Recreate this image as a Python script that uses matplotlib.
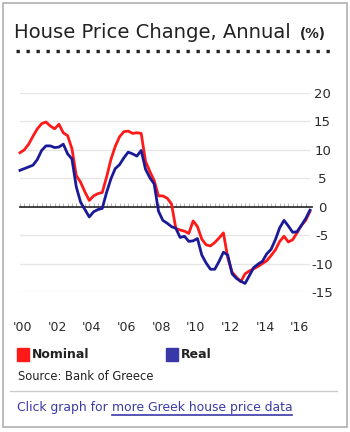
import matplotlib
matplotlib.use("Agg")
import matplotlib.pyplot as plt
from matplotlib.patches import Rectangle
from matplotlib.lines import Line2D
import numpy as np

# ---- data (quarterly, 2000Q1 .. 2016Q4), % y/y ----
start_year = 2000
nominal = [9.5, 10.0, 11.0, 12.4, 13.7, 14.6, 14.9, 14.2, 13.7, 14.5, 13.0, 12.5,
           10.2, 5.5, 4.3, 2.6, 1.1, 1.9, 2.3, 2.5, 5.2, 8.3, 10.6, 12.3,
           13.2, 13.3, 12.9, 13.0, 12.9, 8.0, 6.2, 4.6, 1.9, 1.9, 1.5, 0.5,
           -3.8, -4.1, -4.3, -4.7, -2.5, -3.5, -5.7, -6.7, -6.9, -6.3, -5.5, -4.6,
           -9.0, -11.5, -12.4, -13.2, -11.8, -11.3, -10.9, -10.5, -10.0, -9.5, -8.6, -7.6,
           -6.1, -5.2, -6.2, -5.8, -4.6, -3.3, -2.4, -0.8]
real = [6.4, 6.7, 7.0, 7.3, 8.3, 9.9, 10.7, 10.7, 10.4, 10.5, 11.0, 9.3,
        8.4, 3.5, 0.8, -0.5, -1.8, -0.9, -0.5, -0.3, 2.5, 4.9, 6.7, 7.4,
        8.6, 9.6, 9.3, 8.9, 9.9, 6.6, 5.1, 4.0, -0.8, -2.4, -2.9, -3.5,
        -3.8, -5.4, -5.2, -6.1, -6.0, -5.6, -8.5, -9.9, -11.0, -11.0, -9.6, -8.0,
        -8.5, -11.8, -12.6, -13.1, -13.5, -12.1, -10.7, -10.1, -9.6, -8.3, -7.5, -5.8,
        -3.7, -2.4, -3.4, -4.5, -4.4, -3.3, -2.1, -0.6]
xtick_years = [2000, 2002, 2004, 2006, 2008, 2010, 2012, 2014, 2016]
xtick_labels = ["'00", "'02", "'04", "'06", "'08", "'10", "'12", "'14", "'16"]
ytick_values = [-15, -10, -5, 0, 5, 10, 15, 20]
ytick_labels = ["-15", "-10", "-5", "0", "5", "10", "15", "20"]

W, H = 350, 432
fig = plt.figure(figsize=(W / 100, H / 100), dpi=100)
fig.patch.set_facecolor("white")
renderer = fig.canvas.get_renderer()


def fx(x):
    return x / W


def fy(y):
    return 1 - y / H


# outer border
fig.add_artist(Rectangle((fx(3), fy(427)), fx(344), (427 - 3) / H, fill=False,
                         edgecolor="#b0b0b0", lw=1.2, transform=fig.transFigure))

# title
fig.text(fx(14), fy(33), "House Price Change, Annual", fontsize=14.1, color="#222222",
         ha="left", va="center", family="DejaVu Sans")
fig.text(fx(300), fy(34), "(%)", fontsize=9.8, color="#222222", weight="bold",
         ha="left", va="center", family="DejaVu Sans")
fig.add_artist(Line2D([fx(16), fx(331)], [fy(51), fy(51)], color="#222222", lw=2.4,
                      linestyle=(0, (1.0, 2.0)), transform=fig.transFigure))

# axes
left_px, right_px, top_px, bot_px = 20, 310, 93, 292
ax = fig.add_axes([fx(left_px), fy(bot_px), (right_px - left_px) / W, (bot_px - top_px) / H])
t = np.array([start_year + i / 4 for i in range(len(nominal))])
ax.set_xlim(start_year, t[-1])
ax.set_ylim(-15, 20)
for s in ax.spines.values():
    s.set_visible(False)
ax.set_facecolor("none")

for v in ytick_values:
    if v != 0:
        ax.axhline(v, color="#e6e6e6", lw=0.9, zorder=0)
# quarterly small ticks above zero line
ax.vlines(t, 0, 0.6, color="#b5b5b5", lw=0.7, zorder=1)
ax.plot([start_year, t[-1] + 0.1], [0, 0], color="#333333", lw=1.3, zorder=2, clip_on=False)

ax.plot(t, nominal, color="#ff1a1a", lw=2.0, zorder=3, clip_on=False, solid_joinstyle="round")
ax.plot(t, real, color="#1a1a99", lw=2.0, zorder=4, clip_on=False, solid_joinstyle="round")

ax.yaxis.tick_right()
ax.set_yticks(ytick_values)
ax.set_yticklabels(ytick_labels)
ax.tick_params(axis="y", length=0, pad=9.0, labelsize=9.5, labelcolor="#2a2a2a")
for lab in ax.get_yticklabels():
    lab.set_ha("center")

ax.set_xticks([y + 0.15 for y in xtick_years])
ax.set_xticklabels(xtick_labels)
ax.tick_params(axis="x", length=0, pad=21, labelsize=9.0, labelcolor="#2a2a2a")

# legend
fig.add_artist(Rectangle((fx(17), fy(361)), 12 / W, 13 / H, color="#ff1a1a",
                         transform=fig.transFigure))
fig.text(fx(32), fy(355), "Nominal", fontsize=9, weight="bold", color="#222222",
         ha="left", va="center")
fig.add_artist(Rectangle((fx(166), fy(361)), 12 / W, 13 / H, color="#3838a8",
                         transform=fig.transFigure))
fig.text(fx(181), fy(355), "Real", fontsize=9, weight="bold", color="#222222",
         ha="left", va="center")
fig.text(fx(18), fy(376), "Source: Bank of Greece", fontsize=8.3, color="#222222",
         ha="left", va="center")

# separator
fig.add_artist(Line2D([fx(10), fx(337)], [fy(391), fy(391)], color="#cccccc", lw=1,
                      transform=fig.transFigure))

# footer link text
link_color = "#3a3aa8"
t1 = fig.text(fx(17), fy(407), "Click graph for", fontsize=8.9, color=link_color,
              ha="left", va="center")
bb = t1.get_window_extent(renderer)
x2 = bb.x1 + 4
t2 = fig.text(x2 / W, fy(407), "more Greek house price data", fontsize=8.9,
              color=link_color, ha="left", va="center")
bb2 = t2.get_window_extent(renderer)
fig.add_artist(Line2D([bb2.x0 / W, bb2.x1 / W], [fy(415), fy(415)], color=link_color,
                      lw=1.2, transform=fig.transFigure))

fig.savefig("out.png", dpi=100, facecolor="white")
